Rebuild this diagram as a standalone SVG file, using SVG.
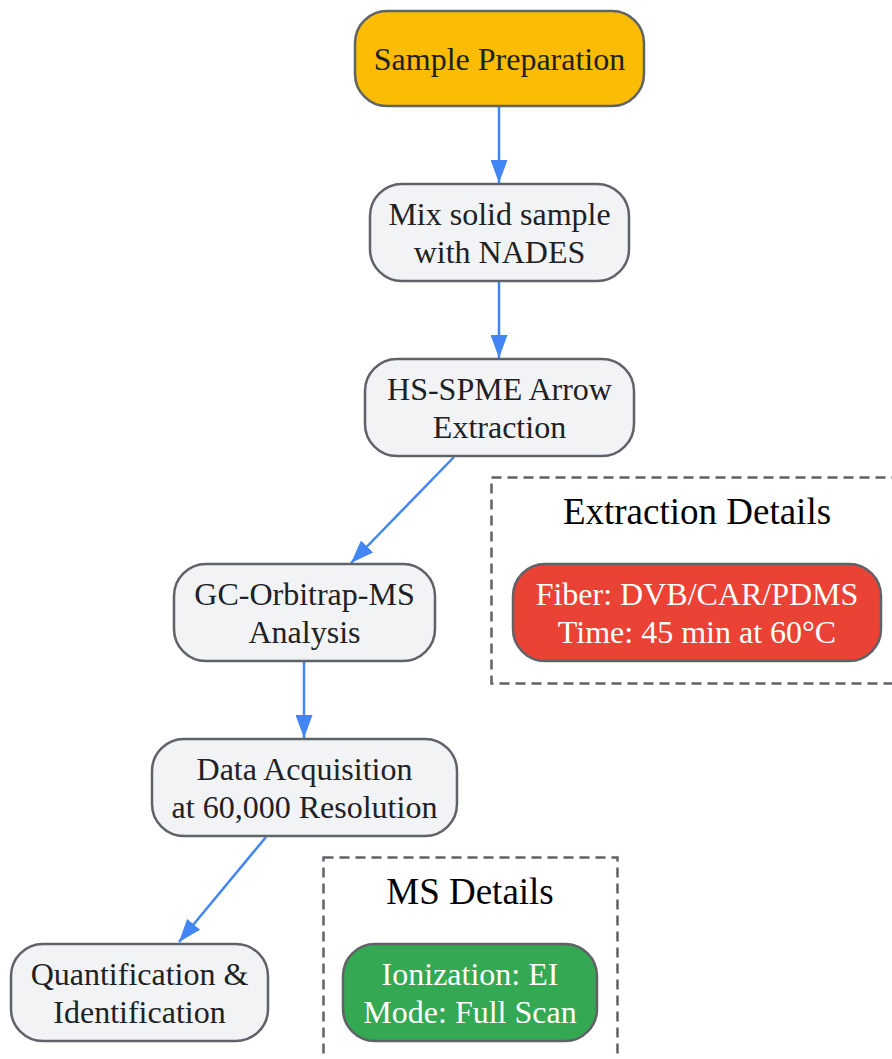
<svg xmlns="http://www.w3.org/2000/svg" width="892" height="1059" viewBox="0 0 892 1059">
<defs>
<marker id="ah" viewBox="0 0 23 17" refX="23" refY="8.5" markerWidth="23" markerHeight="17" orient="auto" markerUnits="userSpaceOnUse"><path d="M0,0 L23,8.5 L0,17 z" fill="#4285F4"/></marker>
<style>
.n{fill:#F1F3F4;stroke:#5F6368;stroke-width:2.5}
.t{font-family:"Liberation Serif","Times New Roman",serif;font-size:32px;fill:#202124;text-anchor:middle}
.w{fill:#FFFFFF}
.c{fill:none;stroke:#5F6368;stroke-width:2.5;stroke-dasharray:10,6}
.ct{font-family:"Liberation Serif","Times New Roman",serif;font-size:37px;fill:#000000;text-anchor:middle}
.e{fill:none;stroke:#4285F4;stroke-width:2.5;marker-end:url(#ah)}
</style>
</defs>
<rect width="892" height="1059" fill="#FFFFFF"/>
<g id="cluster_extraction">
<rect class="c" x="491.5" y="477.5" width="410" height="206"/>
<text class="ct" x="697" y="524">Extraction Details</text>
</g>
<g id="cluster_ms">
<rect class="c" x="323.5" y="857.5" width="294" height="220"/>
<text class="ct" x="470" y="904">MS Details</text>
</g>
<g id="connectors">
<path class="e" d="M499,107 L499,183"/>
<path class="e" d="M499,282 L499,358"/>
<path class="e" d="M454,457 L351,563"/>
<path class="e" d="M304,662 L304,738"/>
<path class="e" d="M266,837 L179,942"/>
</g>
<g id="sample_prep">
<rect x="355" y="11" width="289" height="95" rx="32" fill="#FBBC05" stroke="#5F6368" stroke-width="2.5"/>
<text class="t" x="499.5" y="70">Sample Preparation</text>
</g>
<g id="mix">
<rect class="n" x="370" y="184" width="259" height="97" rx="32"/>
<text class="t" x="499.5" y="225">Mix solid sample</text>
<text class="t" x="499.5" y="263">with NADES</text>
</g>
<g id="hs_spme">
<rect class="n" x="365" y="359" width="269" height="97" rx="32"/>
<text class="t" x="499.5" y="400">HS-SPME Arrow</text>
<text class="t" x="499.5" y="438">Extraction</text>
</g>
<g id="gc_ms">
<rect class="n" x="174" y="564" width="261" height="97" rx="32"/>
<text class="t" x="304.5" y="605">GC-Orbitrap-MS</text>
<text class="t" x="304.5" y="643">Analysis</text>
</g>
<g id="data_acq">
<rect class="n" x="152" y="739" width="305" height="97" rx="32"/>
<text class="t" x="304.5" y="780">Data Acquisition</text>
<text class="t" x="304.5" y="818">at 60,000 Resolution</text>
</g>
<g id="quant">
<rect class="n" x="11" y="944" width="257" height="97" rx="32"/>
<text class="t" x="139.5" y="985">Quantification &amp;</text>
<text class="t" x="139.5" y="1023">Identification</text>
</g>
<g id="fiber">
<rect x="513" y="564" width="368" height="97" rx="32" fill="#EA4335" stroke="#5F6368" stroke-width="2.5"/>
<text class="t w" x="697" y="605">Fiber: DVB/CAR/PDMS</text>
<text class="t w" x="697" y="643">Time: 45 min at 60°C</text>
</g>
<g id="ionization">
<rect x="343" y="944" width="254" height="97" rx="32" fill="#34A853" stroke="#5F6368" stroke-width="2.5"/>
<text class="t w" x="470" y="985">Ionization: EI</text>
<text class="t w" x="470" y="1023">Mode: Full Scan</text>
</g>
</svg>
